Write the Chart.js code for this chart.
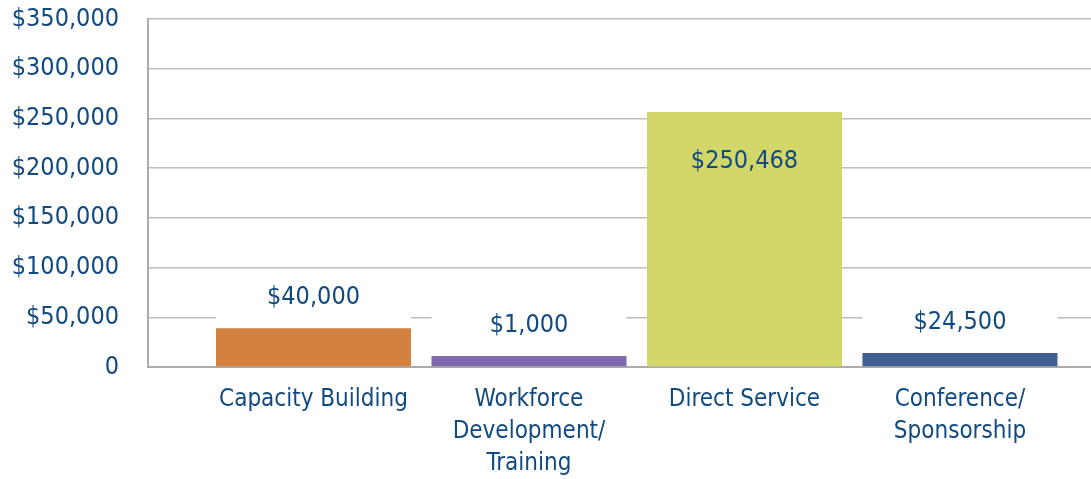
<!DOCTYPE html>
<html>
<head>
<meta charset="utf-8">
<script src="https://cdn.jsdelivr.net/npm/chart.js@4/dist/chart.umd.min.js"></script>
<style>
  html, body { margin: 0; padding: 0; background: #fff; }
  #wrap { width: 1091px; height: 479px; position: relative; }
</style>
</head>
<body>
<div id="wrap"><canvas id="fundChart"></canvas></div>
<script>
// categories and values
const categories = [
    ['Capacity Building'],
    ['Workforce', 'Development/', 'Training'],
    ['Direct Service'],
    ['Conference/', 'Sponsorship']
];
const barValues = [39000, 11000, 256500, 14000];          // bar heights as drawn
const valueLabels = ['$40,000', '$1,000', '$250,468', '$24,500']; // printed labels
const barColors = ['#D4813F', '#7F6AAE', '#D3D668', '#3E5E91'];
const yTicks = [0, 50000, 100000, 150000, 200000, 250000, 300000, 350000];

const textColor = '#114A80';
const fontFamily = '"DejaVu Sans Condensed", "DejaVu Sans", sans-serif';

// labels on top of / inside the bars
const valueLabelPlugin = {
    id: 'valueLabels',
    afterDatasetsDraw: function(chart) {
        const ctx = chart.ctx;
        const meta = chart.getDatasetMeta(0);
        ctx.save();
        ctx.font = '25px ' + fontFamily;
        ctx.textAlign = 'center';
        ctx.textBaseline = 'middle';
        meta.data.forEach((bar, i) => {
            const left = bar.x - bar.width / 2;
            let y;
            if (bar.base - bar.y > 100) {
                y = bar.y + 50;   // inside tall bar
            } else {
                y = bar.y - 31;   // above short bar
                ctx.fillStyle = '#fff';
                ctx.fillRect(left, y - 18, bar.width, bar.y - 1 - (y - 18));
            }
            ctx.fillStyle = textColor;
            ctx.fillText(valueLabels[i], bar.x, y);
        });
        ctx.restore();
    }
};

const ctx = document.getElementById('fundChart').getContext('2d');
new Chart(ctx, {
    type: 'bar',
    data: {
        datasets: [{
            data: barValues.map((v, i) => ({ x: i, y: v })),
            backgroundColor: barColors,
            borderWidth: 0,
            barPercentage: 0.905,
            categoryPercentage: 1
        }]
    },
    options: {
        responsive: true,
        maintainAspectRatio: false,
        animation: false,
        layout: { padding: { top: 19, right: 0, left: 0, bottom: 0 } },
        plugins: {
            legend: { display: false },
            tooltip: { enabled: false }
        },
        scales: {
            x: {
                type: 'linear',
                offset: false,
                min: -0.768,
                max: 3.608,
                afterFit: function(scale) {
                    scale.height = 112;
                    scale.paddingLeft = 0;
                    scale.paddingRight = 0;
                    scale.paddingTop = 0;
                    scale.paddingBottom = 0;
                },
                afterBuildTicks: function(scale) {
                    scale.ticks = categories.map((c, i) => ({ value: i }));
                },
                ticks: {
                    color: textColor,
                    font: { family: fontFamily, size: 24, lineHeight: 1.33 },
                    padding: 9,
                    maxRotation: 0,
                    autoSkip: false,
                    callback: function(value) { return categories[value]; }
                },
                grid: { display: false },
                border: { display: true, color: '#ABABAB', width: 2 }
            },
            y: {
                min: 0,
                max: 350000,
                afterFit: function(scale) {
                    scale.width = 148;
                    scale.paddingTop = 0;
                    scale.paddingBottom = 0;
                },
                afterBuildTicks: function(scale) {
                    scale.ticks = yTicks.map(v => ({ value: v }));
                },
                ticks: {
                    color: textColor,
                    font: { family: fontFamily, size: 25 },
                    padding: 29,
                    callback: function(value) {
                        return value === 0 ? '0' : '$' + value.toLocaleString('en-US');
                    }
                },
                grid: { color: '#BDBDBD', lineWidth: 1.5, drawTicks: false },
                border: { display: true, color: '#ABABAB', width: 2 }
            }
        }
    },
    plugins: [valueLabelPlugin]
});
</script>
</body>
</html>
